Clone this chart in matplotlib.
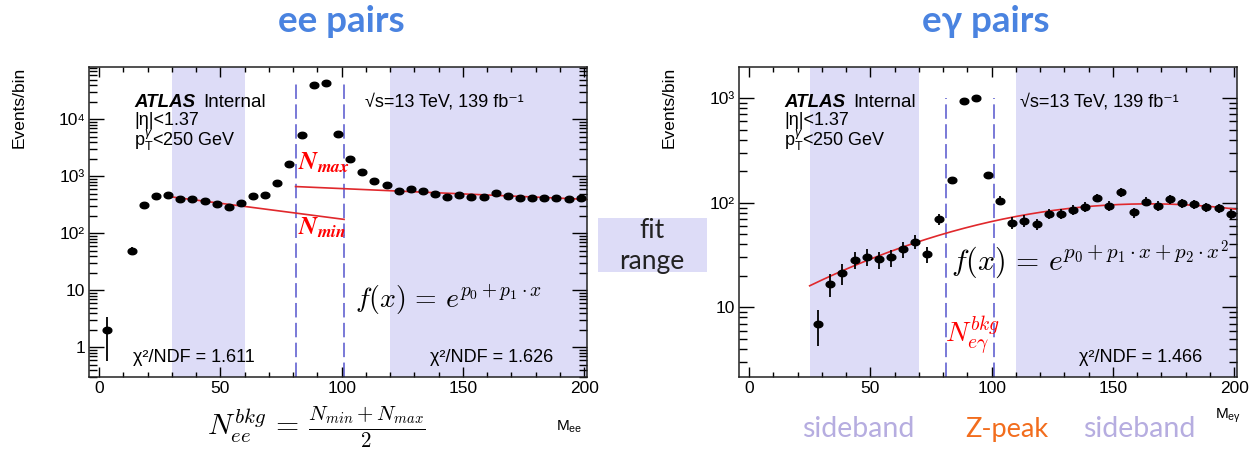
import numpy as np
import matplotlib
matplotlib.use("Agg")
import matplotlib.pyplot as plt
from matplotlib.ticker import MultipleLocator, LogLocator, NullFormatter

# 5 GeV bins starting at 1 GeV
bin_lo = 1
bin_w = 5
n_bins = 40

ee_counts = [2, np.nan, 50, 310, 450, 470, 405, 395, 365, 322,
             293, 345, 450, 480, 760, 1650, 5400, 40000, 43000, 5500,
             2040, 1200, 830, 700, 560, 590, 550, 500, 440, 480,
             440, 440, 515, 450, 415, 415, 425, 415, 405, 425]
eg_counts = [np.nan, np.nan, np.nan, np.nan, np.nan, 6.9, 16.7, 21.1, 28.4, 30.5,
             28.8, 30, 35.9, 42.5, 32.4, 69.5, 165, 950, 1010, 183,
             105, 64.6, 67.5, 62.7, 78.2, 78.2, 85.3, 91.8, 112, 93.8,
             126, 81, 102.5, 93.8, 108, 99, 96.8, 90.6, 89, 78]

# fit results: ln f = p0 + p1*x (+ p2*x^2)
ee_fit_low = [6.462, -0.01276]
ee_fit_low_range = [30, 101]
ee_fit_high = [6.848, -0.00431]
ee_fit_high_range = [81, 201]
eg_fit = [2.0746, 0.030394, -9.21e-5]
eg_fit_range = [25, 201]

ee_sidebands = [(30, 60), (120, 201)]
eg_sidebands = [(25, 70), (110, 201)]
zpeak_window = [81, 101]

ee_chi2 = ["1.611", "1.626"]
eg_chi2 = "1.466"

ee_yticks = [1, 10, 100, 1000, 10000]
ee_yticklabels = ["1", "10", "10²", "10³", "10⁴"]
eg_yticks = [10, 100, 1000]
eg_yticklabels = ["10", "10²", "10³"]

SHADE = "#dddcf7"
DASH = "#6e6ed4"
FITRED = "#e0282c"
TITLEBLUE = "#4a83e0"
SIDEBAND = "#b6ade0"
ZORANGE = "#f26d1d"

plt.rcParams["font.family"] = ["Liberation Sans", "DejaVu Sans"]
plt.rcParams["mathtext.fontset"] = "custom"
plt.rcParams["mathtext.rm"] = "Liberation Sans"
plt.rcParams["mathtext.it"] = "Liberation Sans:italic"
plt.rcParams["mathtext.bf"] = "Liberation Sans:bold"

W, H = 1253, 451
fig = plt.figure(figsize=(W / 100, H / 100), dpi=100)


def fpos(x, y):
    # pixel position (from top-left) -> figure fraction
    return x / W, 1 - y / H


t = np.linspace(0, 2 * np.pi, 41)
ellipse = np.column_stack([1.35 * np.cos(t), np.sin(t)])
centres = bin_lo + bin_w * (np.arange(n_bins) + 0.5)


def panel(rect, counts, sidebands, ylim, yticks, yticklabels):
    ax = fig.add_axes(rect)
    ax.set_yscale("log")
    ax.set_xlim(-4, 201)
    ax.set_ylim(*ylim)
    for lo, hi in sidebands:
        ax.axvspan(lo, hi, color=SHADE, lw=0, zorder=0)
    y = np.array(counts, dtype=float)
    ax.vlines(zpeak_window, ylim[0], np.nanmax(y), colors=DASH,
              linestyles=(0, (8, 3)), lw=1.3, zorder=1)
    ax.errorbar(centres, y, yerr=np.sqrt(y), fmt="none", ecolor="black",
                elinewidth=1.3, zorder=3)
    ax.plot(centres, y, ls="none", marker=ellipse, ms=6.3, color="black", zorder=4)

    ax.xaxis.set_major_locator(MultipleLocator(50))
    ax.xaxis.set_minor_locator(MultipleLocator(10))
    ax.set_yticks(yticks, yticklabels)
    ax.yaxis.set_minor_locator(LogLocator(base=10, subs=np.arange(2, 10)))
    ax.yaxis.set_minor_formatter(NullFormatter())
    ax.tick_params(which="both", direction="in", top=True, right=True,
                   labelsize=12.5, width=1.0, pad=3)
    ax.tick_params(axis="x", which="major", length=7)
    ax.tick_params(axis="x", which="minor", length=3.5)
    ax.tick_params(axis="y", which="major", length=11)
    ax.tick_params(axis="y", which="minor", length=6)
    for s in ax.spines.values():
        s.set_linewidth(1.1)
        s.set_color("#222222")
    return ax


ax1 = panel([89.3 / W, 1 - 377.3 / H, 497.4 / W, 310 / H], ee_counts,
            ee_sidebands, (0.3, 8.2e4), ee_yticks, ee_yticklabels)
ax2 = panel([739.3 / W, 1 - 377.3 / H, 497.4 / W, 310 / H], eg_counts,
            eg_sidebands, (2.14, 1980), eg_yticks, eg_yticklabels)

# fits
xl = np.linspace(*ee_fit_low_range, 100)
ax1.plot(xl, np.exp(ee_fit_low[0] + ee_fit_low[1] * xl), color=FITRED, lw=1.2, zorder=2)
xh = np.linspace(*ee_fit_high_range, 100)
ax1.plot(xh, np.exp(ee_fit_high[0] + ee_fit_high[1] * xh), color=FITRED, lw=1.2, zorder=2)
xg = np.linspace(*eg_fit_range, 200)
ax2.plot(xg, np.exp(eg_fit[0] + eg_fit[1] * xg + eg_fit[2] * xg ** 2),
         color=FITRED, lw=1.2, zorder=2)

# ATLAS labels
renderer = fig.canvas.get_renderer()
for ax in (ax1, ax2):
    tr = ax.transAxes
    atl = ax.text(0.09, 0.873, "ATLAS", transform=tr, fontsize=13.5, weight="bold", style="italic")
    bb = atl.get_window_extent(renderer).transformed(tr.inverted())
    ax.text(bb.x1 + 0.017, 0.873, "Internal", transform=tr, fontsize=13.5)
    ax.text(0.09, 0.813, "|η|<1.37", transform=tr, fontsize=13)
    ax.text(0.09, 0.745, r"p$_{\rm T}^{\gamma}$<250 GeV", transform=tr, fontsize=13)

ax1.text(0.554, 0.873, "√s=13 TeV, 139 fb⁻¹", transform=ax1.transAxes, fontsize=13)
ax2.text(0.564, 0.873, "√s=13 TeV, 139 fb⁻¹", transform=ax2.transAxes, fontsize=13)

ax1.text(0.088, 0.048, "χ²/NDF = " + ee_chi2[0], transform=ax1.transAxes, fontsize=13)
ax1.text(0.685, 0.048, "χ²/NDF = " + ee_chi2[1], transform=ax1.transAxes, fontsize=13)
ax2.text(0.683, 0.048, "χ²/NDF = " + eg_chi2, transform=ax2.transAxes, fontsize=13)

ax1.text(0.534, 0.25, r"$f(x)\,=\,e^{p_0+p_1\cdot x}$", transform=ax1.transAxes,
         fontsize=20, va="center", math_fontfamily="cm")
ax2.text(0.426, 0.379, r"$f(x)\,=\,e^{p_0+p_1\cdot x+p_2\cdot x^2}$", transform=ax2.transAxes,
         fontsize=21.5, va="center", math_fontfamily="cm")

ax1.text(0.42, 0.669, r"$\mathbfit{N}_{\mathbfit{max}}$", transform=ax1.transAxes,
         fontsize=18, color="red", math_fontfamily="stix")
ax1.text(0.42, 0.459, r"$\mathbfit{N}_{\mathbfit{min}}$", transform=ax1.transAxes,
         fontsize=18, color="red", math_fontfamily="stix")
ax2.text(0.413, 0.112, r"$N_{e\gamma}^{bkg}$", transform=ax2.transAxes,
         fontsize=20, color="red", math_fontfamily="cm")

# figure-level annotations
for x, lab in ((19, "Events/bin"), (669, "Events/bin")):
    fig.text(*fpos(x, 67), lab, rotation=90, ha="center", va="top", fontsize=12.5)

fig.text(*fpos(341, 32), "ee pairs", ha="center", va="baseline", fontsize=26.5,
         weight="bold", color=TITLEBLUE, family=["Lato", "DejaVu Sans"])
fig.text(*fpos(986, 32), "eγ pairs", ha="center", va="baseline", fontsize=26.5,
         weight="bold", color=TITLEBLUE, family=["Lato", "DejaVu Sans"])

fig.text(*fpos(316, 427), r"$N_{ee}^{bkg}\,=\,\frac{N_{min}+N_{max}}{2}$", ha="center",
         va="center", fontsize=21.5, math_fontfamily="cm")
fig.text(*fpos(569, 427), r"M$_{\rm ee}$", ha="center", va="center", fontsize=11)
fig.text(*fpos(1228, 416), r"M$_{\rm e\gamma}$", ha="center", va="center", fontsize=11)

bx0, by0 = fpos(598, 271.7)
bx1, by1 = fpos(706.7, 218.3)
fig.patches.append(plt.Rectangle((bx0, by0), bx1 - bx0, by1 - by0, transform=fig.transFigure,
                                 facecolor=SHADE, edgecolor="none"))
fig.text(*fpos(652, 238), "fit", ha="center", va="baseline", fontsize=19,
         color="#222222", family=["Lato", "DejaVu Sans"])
fig.text(*fpos(652, 269), "range", ha="center", va="baseline", fontsize=19,
         color="#222222", family=["Lato", "DejaVu Sans"])

fig.text(*fpos(858, 429), "sideband", ha="center", va="center", fontsize=20.5,
         color=SIDEBAND, family=["Lato", "DejaVu Sans"])
fig.text(*fpos(1007, 429), "Z-peak", ha="center", va="center", fontsize=19.5,
         color=ZORANGE, family=["Lato", "DejaVu Sans"])
fig.text(*fpos(1139, 429), "sideband", ha="center", va="center", fontsize=20.5,
         color=SIDEBAND, family=["Lato", "DejaVu Sans"])

fig.savefig("out.png", dpi=100)
